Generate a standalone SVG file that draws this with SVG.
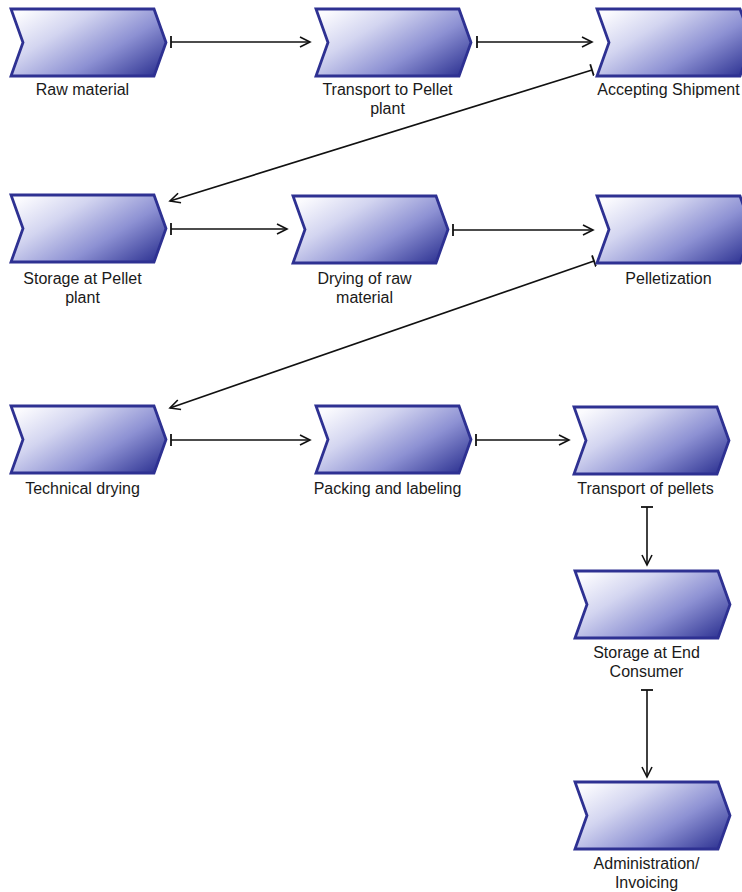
<svg xmlns="http://www.w3.org/2000/svg" width="742" height="892" viewBox="0 0 742 892">
<style>
  .shape { fill: url(#g); stroke: #2e3192; stroke-width: 2.8; stroke-linejoin: miter; }
  .lbl { font-family: "Liberation Sans", Arial, sans-serif; font-size: 16px; fill: #1a1a1a; text-anchor: middle; }
  .conn { fill: none; stroke: #111; stroke-width: 1.6; marker-start: url(#tee); marker-end: url(#arr); }
</style>
<defs>
  <linearGradient id="g" x1="0" y1="0.15" x2="1" y2="0.85">
    <stop offset="0" stop-color="#fbfbfe"/>
    <stop offset="0.3" stop-color="#d3d5f0"/>
    <stop offset="0.65" stop-color="#8d91d3"/>
    <stop offset="1" stop-color="#363b98"/>
  </linearGradient>
  <path id="chev" d="M0,0 H143 L155,33.5 L143,67 H0 L12,33.5 Z"/>
  <marker id="arr" markerUnits="userSpaceOnUse" markerWidth="14" markerHeight="14" refX="11" refY="6" orient="auto">
    <path d="M1,1 L11,6 L1,11" fill="none" stroke="#111" stroke-width="1.6"/>
  </marker>
  <marker id="tee" markerUnits="userSpaceOnUse" markerWidth="6" markerHeight="14" refX="2" refY="6" orient="auto">
    <path d="M2,0 V12" fill="none" stroke="#111" stroke-width="1.8"/>
  </marker>
</defs>
<rect width="742" height="892" fill="#ffffff"/>

<g id="connectors">
  <path class="conn" d="M171,42 H310"/>
  <path class="conn" d="M477,42 H592"/>
  <path class="conn" d="M592,70 L170,201"/>
  <path class="conn" d="M171,229 H287"/>
  <path class="conn" d="M453,230 H593"/>
  <path class="conn" d="M594,261 L170,408"/>
  <path class="conn" d="M171,440 H310"/>
  <path class="conn" d="M476,440 H569"/>
  <path class="conn" d="M647,507 V565"/>
  <path class="conn" d="M647,690 V777"/>
</g>

<g id="raw-material" transform="translate(11,9)">
  <use href="#chev" class="shape"/>
  <text class="lbl" x="71.5" y="86">Raw material</text>
</g>
<g id="transport-to-pellet-plant" transform="translate(316,9)">
  <use href="#chev" class="shape"/>
  <text class="lbl" x="71.5" y="86">Transport to Pellet</text>
  <text class="lbl" x="71.5" y="105">plant</text>
</g>
<g id="accepting-shipment" transform="translate(597,9)">
  <use href="#chev" class="shape"/>
  <text class="lbl" x="71.5" y="86">Accepting Shipment</text>
</g>
<g id="storage-at-pellet-plant" transform="translate(11,195)">
  <use href="#chev" class="shape"/>
  <text class="lbl" x="71.5" y="89">Storage at Pellet</text>
  <text class="lbl" x="71.5" y="108">plant</text>
</g>
<g id="drying-of-raw-material" transform="translate(293,196)">
  <use href="#chev" class="shape"/>
  <text class="lbl" x="71.5" y="88">Drying of raw</text>
  <text class="lbl" x="71.5" y="107">material</text>
</g>
<g id="pelletization" transform="translate(597,196)">
  <use href="#chev" class="shape"/>
  <text class="lbl" x="71.5" y="88">Pelletization</text>
</g>
<g id="technical-drying" transform="translate(11,406)">
  <use href="#chev" class="shape"/>
  <text class="lbl" x="71.5" y="88">Technical drying</text>
</g>
<g id="packing-and-labeling" transform="translate(316,406)">
  <use href="#chev" class="shape"/>
  <text class="lbl" x="71.5" y="88">Packing and labeling</text>
</g>
<g id="transport-of-pellets" transform="translate(574,407)">
  <use href="#chev" class="shape"/>
  <text class="lbl" x="71.5" y="87">Transport of pellets</text>
</g>
<g id="storage-at-end-consumer" transform="translate(575,571)">
  <use href="#chev" class="shape"/>
  <text class="lbl" x="71.5" y="87">Storage at End</text>
  <text class="lbl" x="71.5" y="106">Consumer</text>
</g>
<g id="administration-invoicing" transform="translate(575,782)">
  <use href="#chev" class="shape"/>
  <text class="lbl" x="71.5" y="87">Administration/</text>
  <text class="lbl" x="71.5" y="106">Invoicing</text>
</g>
</svg>
